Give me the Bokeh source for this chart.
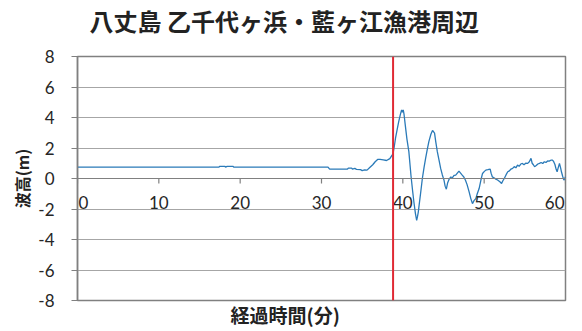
from bokeh.plotting import figure
from bokeh.embed import file_html
from bokeh.resources import INLINE
from bokeh.models import Span, Title, FixedTicker, Label

title_text = "八丈島 乙千代ヶ浜・藍ヶ江漁港周辺"
x_label = "経過時間(分)"
y_label = "波高(m)"
x_ticks = [0, 10, 20, 30, 40, 50, 60]
x_tick_labels = ["0", "10", "20", "30", "40", "50", "60"]
y_ticks = [-8, -6, -4, -2, 0, 2, 4, 6, 8]
x_axis_level = 0
arrival_min = 38.8

time_min = [0, 17.4, 17.5, 18.1, 18.2, 18.4, 19.1, 19.2, 30.8, 31.0, 33.2, 33.3, 33.7, 33.8,
            34.1, 34.3, 34.8, 35.0, 35.3, 35.6, 35.9, 36.3, 36.6, 36.9, 37.2, 37.6, 38.0, 38.4,
            38.7, 38.8, 38.95, 39.1, 39.3, 39.5, 39.7, 39.85, 39.95, 40.05, 40.15, 40.3, 40.5,
            40.74, 40.9, 41.0, 41.2, 41.36, 41.55, 41.7, 41.8, 41.9, 42.0, 42.2, 42.4, 42.6,
            42.8, 43.0, 43.2, 43.45, 43.65, 43.8, 43.9, 44.05, 44.24, 44.45, 44.65, 44.85,
            45.06, 45.2, 45.35, 45.5, 45.7, 45.9, 46.1, 46.3, 46.5, 46.7, 46.9, 47.1, 47.3,
            47.5, 47.7, 47.9, 48.15, 48.35, 48.56, 48.75, 48.97, 49.15, 49.38, 49.6, 49.8,
            50.0, 50.2, 50.45, 50.74, 50.85, 51.0, 51.2, 51.44, 51.65, 51.85, 52.0, 52.14,
            52.3, 52.47, 52.7, 52.9, 53.1, 53.3, 53.5, 53.7, 53.9, 54.1, 54.3, 54.5, 54.7,
            54.9, 55.1, 55.35, 55.55, 55.76, 55.9, 56.05, 56.2, 56.4, 56.6, 56.8, 57.0, 57.2,
            57.4, 57.6, 57.8, 58.0, 58.2, 58.4, 58.55, 58.7, 58.85, 58.97, 59.1, 59.26, 59.4,
            59.5, 59.65, 59.8, 59.9, 60.0]
wave_m = [0.75, 0.75, 0.8, 0.8, 0.75, 0.8, 0.8, 0.75, 0.75, 0.62, 0.62, 0.68, 0.68, 0.62,
          0.66, 0.6, 0.58, 0.52, 0.56, 0.55, 0.7, 0.9, 1.1, 1.25, 1.25, 1.22, 1.18, 1.3,
          1.55, 1.65, 2.1, 2.64, 3.2, 3.74, 4.2, 4.5, 4.35, 4.5, 4.2, 3.5, 2.6,
          1.76, 0.8, 0.2, -0.8, -1.54, -2.3, -2.75, -2.5, -2.2, -1.76, -0.9, 0.0, 0.7,
          1.32, 1.9, 2.42, 2.9, 3.15, 3.05, 2.97, 2.4, 1.76, 1.2, 0.66, 0.25,
          -0.11, -0.5, -0.7, -0.3, -0.04, 0.1, 0.05, 0.2, 0.22, 0.35, 0.48, 0.35, 0.22,
          0.1, -0.11, -0.4, -0.88, -1.3, -1.65, -1.45, -1.32, -1.0, -0.66, -0.1, 0.33,
          0.45, 0.55, 0.58, 0.62, 0.35, 0.11, 0.05, -0.04, -0.1, -0.18, -0.25, -0.33,
          -0.15, 0.0, 0.25, 0.44, 0.5, 0.62, 0.66, 0.78, 0.7, 0.88, 0.8, 0.95, 0.99,
          0.9, 1.0, 0.99, 1.1, 1.32, 1.0, 0.9, 0.77, 0.85, 0.95, 0.99, 1.05, 0.98,
          1.1, 1.05, 1.15, 1.14, 1.2, 1.21, 1.1, 0.92, 0.6, 0.44, 0.7, 0.99, 0.7,
          0.44, 0.15, -0.11, 0.0, 0.11]

p = figure(width=582, height=330, x_range=(0, 60), y_range=(-8, 8),
           output_backend="svg", toolbar_location=None,
           min_border_left=77, min_border_right=17, min_border_top=56, min_border_bottom=30)
p.background_fill_color = "white"
p.border_fill_color = "white"
p.outline_line_color = "#808080"
p.outline_line_width = 1.5

# spacer between title and frame (closest to frame), then the title
spacer = Title(text=" ", text_font_size="1px", standoff=16)
p.add_layout(spacer, "above")
t = Title(text=title_text, align="left", offset=12, text_font="Noto Sans CJK JP",
          text_font_size="24px", text_font_style="bold", text_color="#222222", standoff=0)
p.add_layout(t, "above")

p.xgrid.visible = False
p.ygrid.ticker = FixedTicker(ticks=y_ticks)
p.ygrid.grid_line_color = "#a6a6a6"
p.ygrid.grid_line_width = 1.2

# horizontal axis crossing at 0: line, downward ticks and labels
p.xaxis.visible = False
p.add_layout(Span(location=x_axis_level, dimension="width", line_color="#808080", line_width=1.2))
tick_len = 5 / 15.25
p.segment(x0=x_ticks, y0=[x_axis_level] * len(x_ticks), x1=x_ticks,
          y1=[x_axis_level - tick_len] * len(x_ticks), line_color="#808080", line_width=1.2)
n_lab = len(x_ticks)
for i, (xv, lab) in enumerate(zip(x_ticks, x_tick_labels)):
    if i == 0:
        align, xoff = "left", 1
    elif i == n_lab - 1:
        align, xoff = "right", -1
    else:
        align, xoff = "center", 0
    p.add_layout(Label(x=xv, y=x_axis_level, text=lab, x_offset=xoff, y_offset=-24,
                       text_align=align, text_baseline="middle", text_font="Lato",
                       text_font_size="17px", text_color="#262626"))

ya = p.yaxis[0]
ya.ticker = FixedTicker(ticks=y_ticks)
ya.major_label_overrides = {v: str(v) for v in y_ticks}
ya.axis_line_color = "#808080"
ya.axis_line_width = 1.5
ya.major_tick_line_color = "#808080"
ya.major_tick_in = 0
ya.major_tick_out = 6
ya.minor_tick_line_color = None
ya.major_label_standoff = 17
ya.major_label_text_font = "Lato"
ya.major_label_text_font_size = "17px"
ya.major_label_text_color = "#262626"
ya.axis_label = y_label
ya.axis_label_text_font = "Noto Sans CJK JP"
ya.axis_label_text_font_size = "16px"
ya.axis_label_text_font_style = "bold"
ya.axis_label_text_color = "#222222"
ya.axis_label_standoff = 1

xt = Title(text=x_label, align="left", offset=153, vertical_align="top",
           text_font="Noto Sans CJK JP", text_font_size="19px", text_font_style="bold",
           text_color="#222222", standoff=0)
p.add_layout(xt, "below")

p.line(time_min, wave_m, line_color="#2a7ab8", line_width=1.3)
p.add_layout(Span(location=arrival_min, dimension="height", line_color="#e02a35", line_width=2))

open("out.html", "w").write(file_html(p, INLINE))
